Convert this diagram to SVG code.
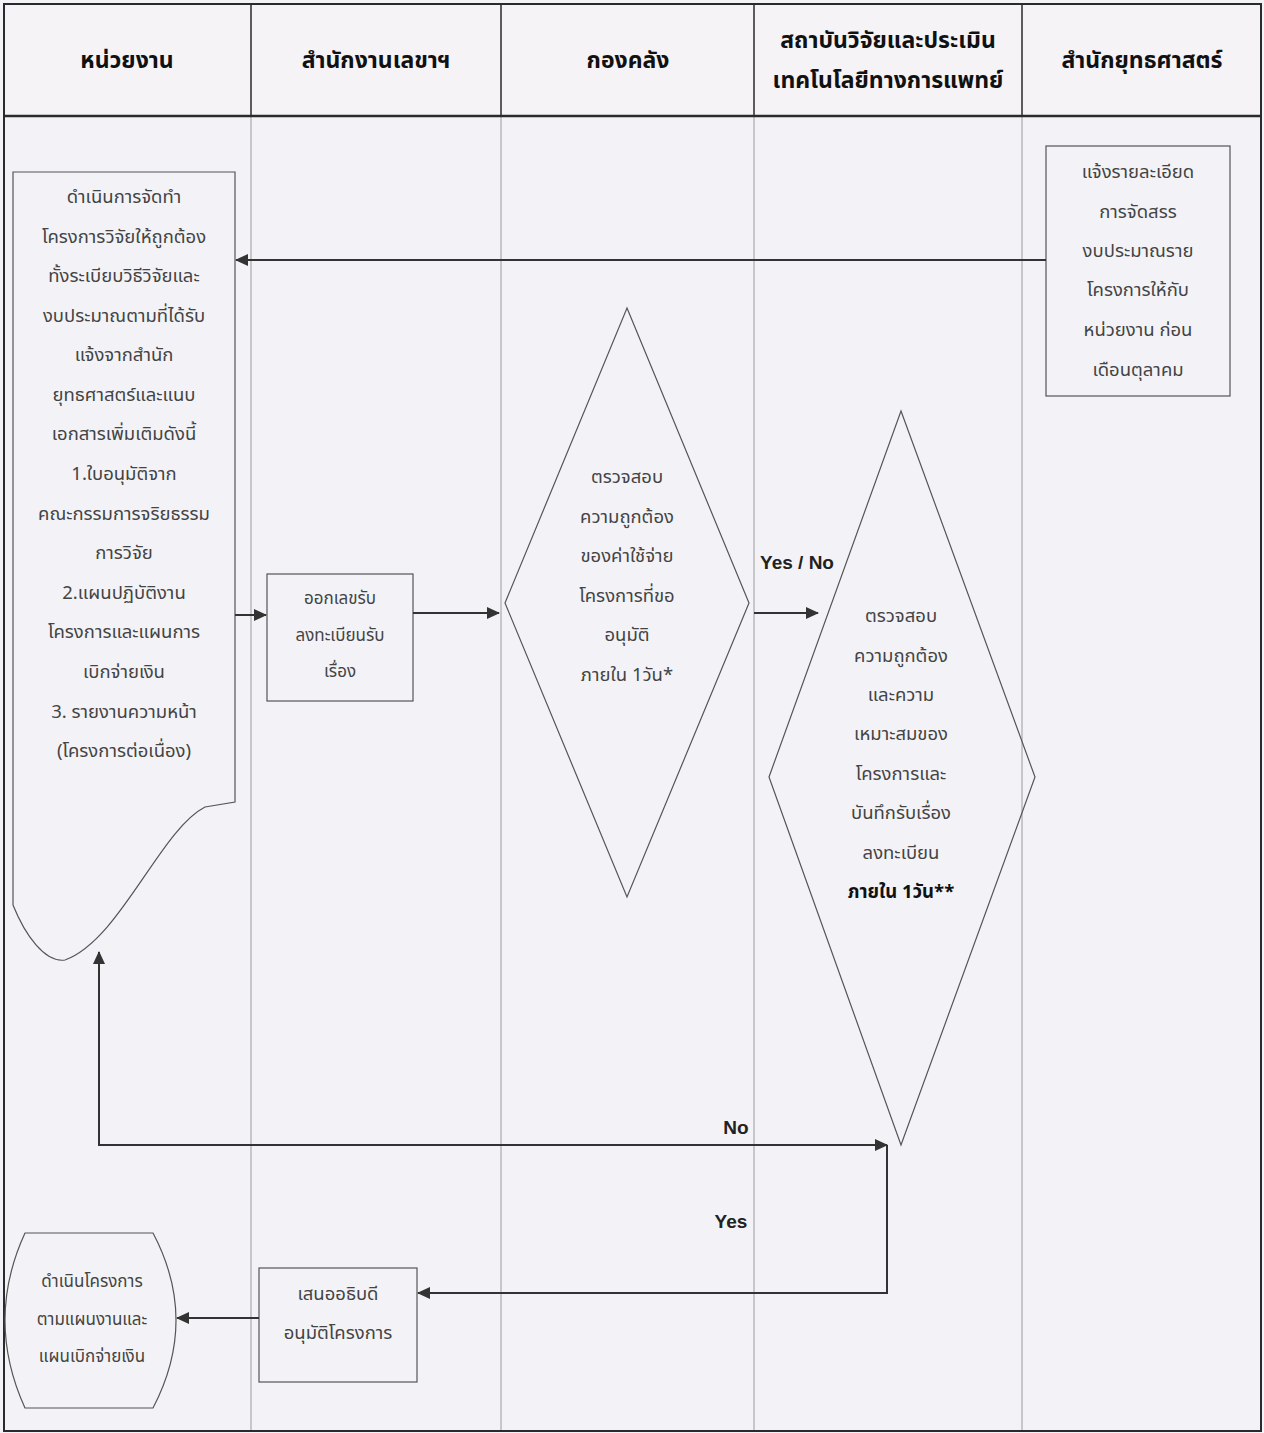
<svg xmlns="http://www.w3.org/2000/svg" width="1264" height="1433" viewBox="0 0 1264 1433">
<defs>
<style>
.bg{fill:#f3f3f7}
.hd{fill:#f5f3f6}
.frame{fill:none;stroke:#2a2a2a;stroke-width:2}
.div{stroke:#9a9aa0;stroke-width:1}
.hdiv{stroke:#2a2a2a;stroke-width:1.5}
.shape{fill:none;stroke:#555;stroke-width:1.2}
.conn{fill:none;stroke:#333;stroke-width:2}
.ht{font-family:"Noto Sans Thai","Noto Sans","DejaVu Sans",sans-serif;font-size:23px;font-weight:bold;fill:#111;text-anchor:middle}
.t{font-family:"Noto Sans Thai","Noto Sans","DejaVu Sans",sans-serif;font-size:18.5px;fill:#444;text-anchor:middle}
.ts{font-family:"Noto Sans Thai","Noto Sans","DejaVu Sans",sans-serif;font-size:17px;fill:#444;text-anchor:middle}
.tb{font-weight:bold;fill:#111}
.lbl{font-family:"Liberation Sans",Arial,sans-serif;font-size:19px;font-weight:bold;fill:#222;text-anchor:middle}
</style>
<marker id="ah" markerWidth="13" markerHeight="12" refX="12" refY="6" orient="auto-start-reverse" markerUnits="userSpaceOnUse" viewBox="0 0 13 12">
<path d="M0,0 L13,6 L0,12 Z" fill="#333"/>
</marker>
</defs>
<rect x="0" y="0" width="1264" height="1433" class="bg"/>
<rect x="4" y="4" width="1257" height="112" class="hd"/>
<g id="lanes">
<line x1="251" y1="116" x2="251" y2="1432" class="div"/>
<line x1="501" y1="116" x2="501" y2="1432" class="div"/>
<line x1="754" y1="116" x2="754" y2="1432" class="div"/>
<line x1="1022" y1="116" x2="1022" y2="1432" class="div"/>
<line x1="251" y1="4" x2="251" y2="116" class="hdiv"/>
<line x1="501" y1="4" x2="501" y2="116" class="hdiv"/>
<line x1="754" y1="4" x2="754" y2="116" class="hdiv"/>
<line x1="1022" y1="4" x2="1022" y2="116" class="hdiv"/>
<line x1="4" y1="116" x2="1261" y2="116" stroke="#2a2a2a" stroke-width="2.5"/>
<rect x="4" y="4" width="1257" height="1427" class="frame"/>
<text class="ht" x="127" y="68">หน่วยงาน</text>
<text class="ht" x="376" y="68">สำนักงานเลขาฯ</text>
<text class="ht" x="628" y="68">กองคลัง</text>
<text class="ht" x="888" y="48">สถาบันวิจัยและประเมิน</text>
<text class="ht" x="888" y="88">เทคโนโลยีทางการแพทย์</text>
<text class="ht" x="1142" y="68">สำนักยุทธศาสตร์</text>
</g>
<g id="n1">
<path d="M13,172 L235,172 L235,802 L205,807 C160,830 120,940 65,960 C45,963 25,935 13,905 Z" class="shape"/>
<text class="t" x="124" y="203">ดำเนินการจัดทำ</text>
<text class="t" x="124" y="243">โครงการวิจัยให้ถูกต้อง</text>
<text class="t" x="124" y="282">ทั้งระเบียบวิธีวิจัยและ</text>
<text class="t" x="124" y="322">งบประมาณตามที่ได้รับ</text>
<text class="t" x="124" y="361">แจ้งจากสำนัก</text>
<text class="t" x="124" y="401">ยุทธศาสตร์และแนบ</text>
<text class="t" x="124" y="440">เอกสารเพิ่มเติมดังนี้</text>
<text class="t" x="124" y="480">1.ใบอนุมัติจาก</text>
<text class="t" x="124" y="520">คณะกรรมการจริยธรรม</text>
<text class="t" x="124" y="559">การวิจัย</text>
<text class="t" x="124" y="599">2.แผนปฏิบัติงาน</text>
<text class="t" x="124" y="638">โครงการและแผนการ</text>
<text class="t" x="124" y="678">เบิกจ่ายเงิน</text>
<text class="t" x="124" y="718">3. รายงานความหน้า</text>
<text class="t" x="124" y="757">(โครงการต่อเนื่อง)</text>
</g>
<g id="n2">
<rect x="1046" y="146" width="184" height="250" class="shape"/>
<text class="t" x="1138" y="178">แจ้งรายละเอียด</text>
<text class="t" x="1138" y="218">การจัดสรร</text>
<text class="t" x="1138" y="257">งบประมาณราย</text>
<text class="t" x="1138" y="296">โครงการให้กับ</text>
<text class="t" x="1138" y="336">หน่วยงาน ก่อน</text>
<text class="t" x="1138" y="376">เดือนตุลาคม</text>
</g>
<g id="n3">
<rect x="267" y="574" width="146" height="127" class="shape"/>
<text class="ts" x="340" y="604">ออกเลขรับ</text>
<text class="ts" x="340" y="641">ลงทะเบียนรับ</text>
<text class="ts" x="340" y="677">เรื่อง</text>
</g>
<g id="n4">
<polygon points="627,308 749,603 627,897 505,603" class="shape"/>
<text class="t" x="627" y="483">ตรวจสอบ</text>
<text class="t" x="627" y="523">ความถูกต้อง</text>
<text class="t" x="627" y="562">ของค่าใช้จ่าย</text>
<text class="t" x="627" y="602">โครงการที่ขอ</text>
<text class="t" x="627" y="641">อนุมัติ</text>
<text class="t" x="627" y="681">ภายใน 1วัน*</text>
</g>
<g id="n5">
<polygon points="901,411 1035,777 901,1145 769,777" class="shape"/>
<text class="t" x="901" y="622">ตรวจสอบ</text>
<text class="t" x="901" y="662">ความถูกต้อง</text>
<text class="t" x="901" y="701">และความ</text>
<text class="t" x="901" y="740">เหมาะสมของ</text>
<text class="t" x="901" y="780">โครงการและ</text>
<text class="t" x="901" y="819">บันทึกรับเรื่อง</text>
<text class="t" x="901" y="859">ลงทะเบียน</text>
<text class="t tb" x="901" y="898">ภายใน 1วัน**</text>
</g>
<g id="n6">
<rect x="259" y="1268" width="158" height="114" class="shape"/>
<text class="t" x="338" y="1300">เสนออธิบดี</text>
<text class="t" x="338" y="1339">อนุมัติโครงการ</text>
</g>
<g id="n7">
<path d="M25,1233 L153,1233 Q199,1320 153,1408 L25,1408 Q-15,1320 25,1233 Z" class="shape" stroke-linejoin="round"/>
<text class="ts" x="92" y="1287">ดำเนินโครงการ</text>
<text class="ts" x="92" y="1325">ตามแผนงานและ</text>
<text class="ts" x="92" y="1362">แผนเบิกจ่ายเงิน</text>
</g>
<g id="connectors">
<line x1="1046" y1="260" x2="236" y2="260" class="conn" stroke-width="1.5" marker-end="url(#ah)"/>
<line x1="235" y1="615" x2="266" y2="615" class="conn" marker-end="url(#ah)"/>
<line x1="413" y1="613" x2="499" y2="613" class="conn" marker-end="url(#ah)"/>
<line x1="754" y1="613" x2="818" y2="613" class="conn" marker-end="url(#ah)"/>
<polyline points="887,1145 99,1145 99,952" class="conn" marker-start="url(#ah)" marker-end="url(#ah)"/>
<polyline points="887,1145 887,1293 418,1293" class="conn" marker-end="url(#ah)"/>
<line x1="259" y1="1318" x2="177" y2="1318" class="conn" marker-end="url(#ah)"/>
<text class="lbl" x="797" y="569">Yes / No</text>
<text class="lbl" x="736" y="1134">No</text>
<text class="lbl" x="731" y="1228">Yes</text>
</g>
</svg>
